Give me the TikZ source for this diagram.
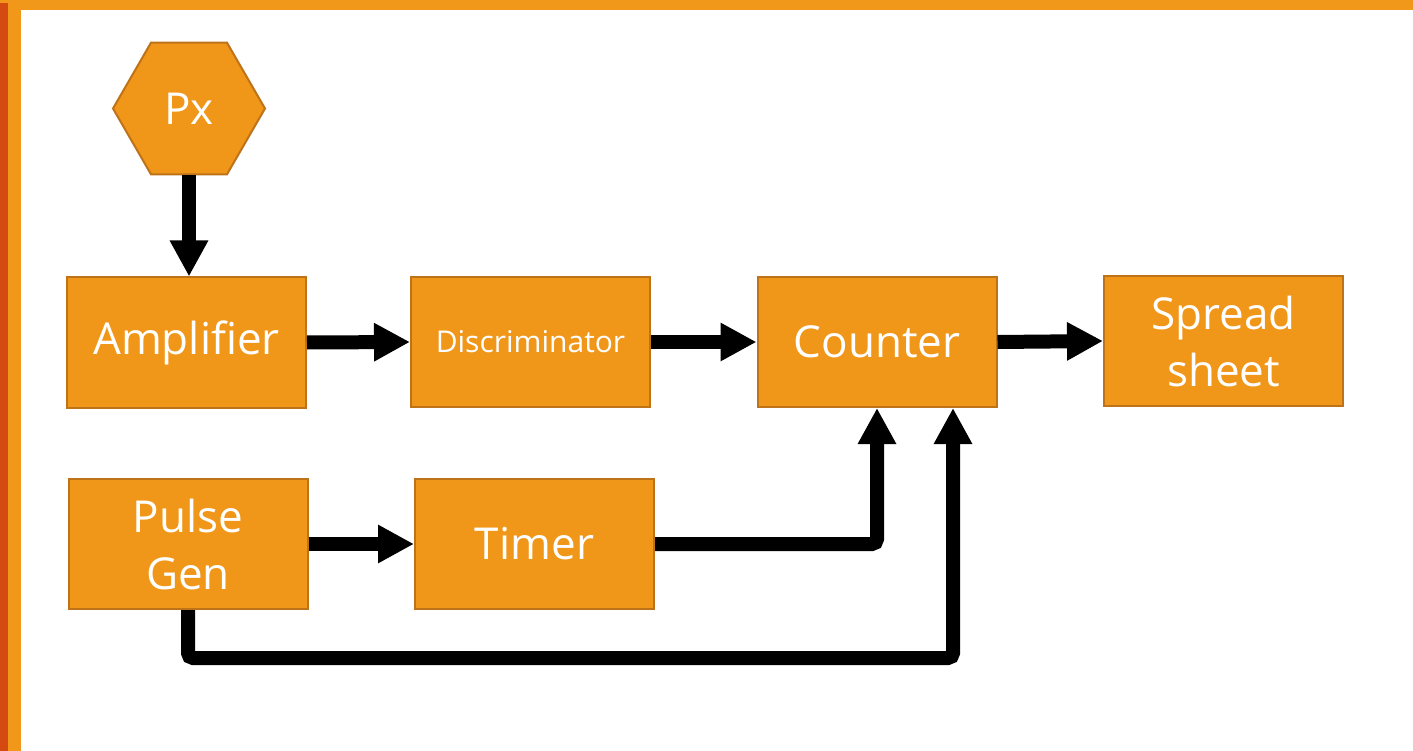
\documentclass[tikz,border=0pt]{standalone}
\usepackage{fontspec}
\setmainfont{Open Sans}
\usetikzlibrary{arrows.meta,shapes.geometric}
\definecolor{boxor}{RGB}{240,150,25}
\definecolor{boxedge}{RGB}{190,115,25}
\definecolor{frameor}{RGB}{241,151,26}
\definecolor{framered}{RGB}{212,74,16}
\tikzset{
  blk/.style={draw=boxedge, line width=2pt, fill=boxor, minimum width=239pt, minimum height=130pt, inner sep=0pt, text=white, font=\fontsize{44}{57}\selectfont, align=center},
  hexa/.style={draw=boxedge, line width=2pt, fill=boxor, regular polygon, regular polygon sides=6, minimum size=152pt, inner sep=0pt, text=white, font=\fontsize{44}{57}\selectfont},
  conn/.style={line width=14pt, -{Triangle[length=36pt,width=36pt]}, rounded corners=5pt}
}
\begin{document}
\begin{tikzpicture}[x=1pt,y=-1pt]
\useasboundingbox (0,0) rectangle (1413,751);
\fill[white] (0,0) rectangle (1413,751);
\fill[frameor] (0,0) rectangle (1413,10.5);
\fill[frameor] (0,0) rectangle (20.5,751);
\fill[framered] (0,3) rectangle (8,751);
\node[hexa] (px) at (189,108.5) {Px};
\node[blk] (amp) at (186.5,342.5) {Amplifier};
\node[blk, font=\fontsize{30}{36}\selectfont] (disc) at (530.5,342) {Discriminator};
\node[blk] (cnt) at (877,342) {Counter};
\node[blk] (spr) at (1223.5,341) {Spread\\sheet};
\node[blk] (pg) at (188,544) {Pulse\\Gen};
\node[blk] (tim) at (534.5,544) {Timer};
\coordinate (c2) at ([xshift=76pt]cnt.south);
\coordinate (pgb) at ([yshift=-48pt]pg.south);
\draw[conn] (px.south) -- (px.south |- amp.north);
\draw[conn] (amp.east) -- (disc.west);
\draw[conn] (disc.east) -- (cnt.west);
\draw[conn] (cnt.east) -- (spr.west);
\draw[conn] (pg.east) -- (tim.west);
\draw[conn] (tim.east) -| (cnt.south);
\draw[conn] (pg.south) |- (pgb -| c2) -- (c2);
\end{tikzpicture}
\end{document}
